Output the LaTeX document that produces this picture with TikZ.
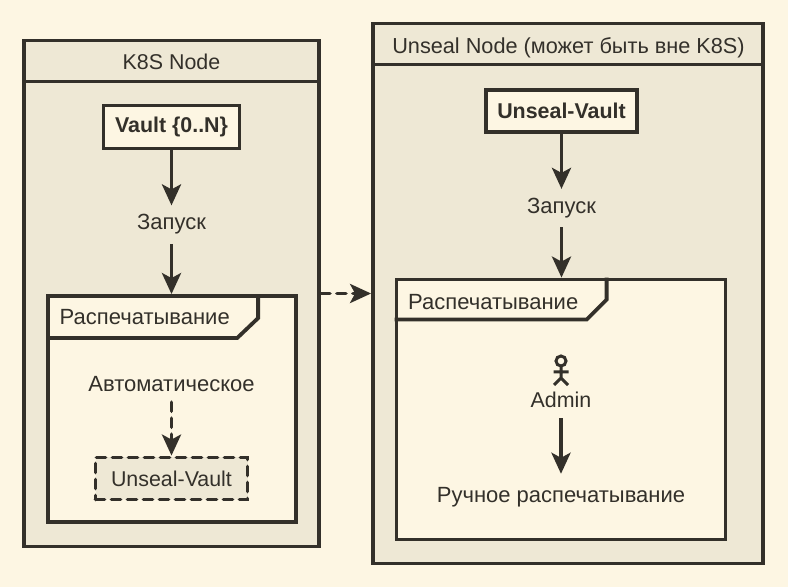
\documentclass[tikz,border=0pt]{standalone}
\usepackage{fontspec}
\setmainfont{Liberation Sans}
\usetikzlibrary{arrows.meta,positioning}
\definecolor{paper}{RGB}{253, 246, 227}
\definecolor{sand}{RGB}{238, 232, 213}
\definecolor{ink}{RGB}{51, 48, 42}
\newcommand{\latinsize}{\fontsize{21.4pt}{25pt}\selectfont}
\tikzstyle{hostbox} = [rectangle, draw=ink, line width=3.8pt, fill=sand, inner sep=0pt]
\tikzstyle{framebox} = [rectangle, draw=ink, line width=3.8pt, fill=paper, inner sep=0pt]
\tikzstyle{rule} = [draw=ink, line width=3.8pt]
\tikzstyle{vaultbox} = [rectangle, draw=ink, line width=3.8pt, fill=paper, text=ink, font=\bfseries\fontsize{21.4pt}{25pt}\selectfont, inner sep=0pt]
\tikzstyle{sealbox} = [rectangle, draw=ink, line width=3.8pt, line cap=round, dash pattern=on 9pt off 7pt, fill=sand, text=ink, font=\latinsize, inner sep=0pt]
\tikzstyle{textonly} = [draw=none, fill=none, text=ink, font=\fontsize{22pt}{26pt}\selectfont, inner sep=0pt, minimum height=38pt]
\tikzstyle{tedge} = [draw=ink, line width=3.8pt, -{Stealth[length=21pt, width=19pt, inset=5pt]}]
\tikzstyle{dedge} = [tedge, line cap=round, dash pattern=on 9pt off 7pt]

\begin{document}
\begin{tikzpicture}
\fill[paper] (0pt,0pt) rectangle (788pt,587pt);
\useasboundingbox (0pt,0pt) rectangle (788pt,587pt);

% left host =============================
\node[hostbox, minimum width=295pt, minimum height=506pt] (k8s) at (171.5pt,293.5pt) {};
\node[textonly, font=\latinsize, minimum height=0pt] (k8stitle) at (171.5pt,525pt) {K8S Node};
\draw[rule] ([yshift=-43pt]k8s.north west) -- ([yshift=-43pt]k8s.north east);
\node[vaultbox, minimum width=136pt, minimum height=43pt] (vault) at (171.5pt,460pt) {Vault \{0..N\}};
\node[textonly, below=55pt of vault] (startl) {Запуск};
\node[framebox, minimum width=248pt, minimum height=226pt] (sealf) at (172pt,178pt) {};
\node[textonly, minimum height=0pt, anchor=west] (sealt) at (59.5pt,269.5pt) {Распечатывание};
\draw[rule, line join=miter] ([xshift=212pt]sealf.north west) -- ++(0pt,-24pt) -- ++(-21pt,-20pt) -- ([yshift=-44pt]sealf.north west);
\node[textonly, minimum height=36pt] (auto) at (171.5pt,203pt) {Автоматическое};
\node[sealbox, minimum width=152pt, minimum height=42pt] (unseal) at (171.5pt,108.5pt) {Unseal-Vault};

% right host =============================
\node[hostbox, minimum width=390pt, minimum height=540pt] (host) at (568pt,293.5pt) {};
\node[textonly, font=\fontsize{21.7pt}{26pt}\selectfont, minimum height=0pt] (hosttitle) at (568.5pt,539.5pt) {Unseal Node (может быть вне K8S)};
\draw[rule] ([yshift=-43pt]host.north west) -- ([yshift=-43pt]host.north east);
\node[vaultbox, minimum width=151pt, minimum height=42pt] (uvault) at (561.5pt,476pt) {Unseal-Vault};
\node[textonly, below=55pt of uvault] (startr) {Запуск};
\node[framebox, minimum width=329pt, minimum height=260pt] (manualf) at (561pt,177.5pt) {};
\node[textonly, minimum height=0pt, anchor=west] (manualt) at (408pt,284.5pt) {Распечатывание};
\draw[rule, line join=miter] ([xshift=212pt]manualf.north west) -- ++(0pt,-22pt) -- ++(-20pt,-20pt) -- ([yshift=-42pt]manualf.north west);
\coordinate (actor) at (561pt,226pt);
\draw[draw=ink, line width=3pt] (actor) circle (5pt);
\draw[draw=ink, line width=3pt] ([yshift=-5pt]actor) -- ++(0pt,-12pt) ++(-7.5pt,6pt) -- ++(15pt,0pt) ++(-14.5pt,-13pt) -- ++(7pt,7pt) -- ++(7pt,-7pt);
\node[textonly, font=\latinsize, minimum height=36pt] (admin) at (561pt,187pt) {Admin};
\node[textonly, minimum height=47pt] (manual) at (561pt,89.5pt) {Ручное распечатывание};

% edges
\draw[tedge] (vault) -- (startl);
\draw[tedge] (startl) -- (sealf.north -| startl);
\draw[dedge] (auto) -- (unseal);
\draw[tedge] (uvault) -- (startr);
\draw[tedge] (startr) -- (manualf.north -| startr);
\draw[tedge] (admin) -- (manual);
\draw[dedge] (k8s.east) -- (k8s.east -| host.west);

\end{tikzpicture}
\end{document}
